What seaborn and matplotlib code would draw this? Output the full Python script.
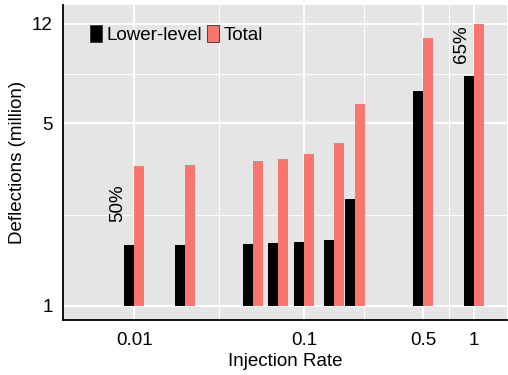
import numpy as np
import pandas as pd
import seaborn as sns
import matplotlib
matplotlib.use("Agg")
import matplotlib.pyplot as plt
from matplotlib.patches import Patch

# values (millions of deflections)
rates = [0.01, 0.02, 0.05, 0.07, 0.1, 0.15, 0.2, 0.5, 1]
lower_level = [1.71, 1.71, 1.73, 1.74, 1.76, 1.79, 2.57, 6.67, 7.59]
total = [3.43, 3.46, 3.59, 3.65, 3.82, 4.21, 5.93, 10.6, 12.0]
series = ["Lower-level", "Total"]
colors = ["#000000", "#F8766D"]
x_ticks = [0.01, 0.1, 0.5, 1]
x_labels = ["0.01", "0.1", "0.5", "1"]
y_ticks = [1, 5, 12]
notes = [(0.0080, 2.48, "50%"), (0.846, 10.0, "65%")]

df = pd.DataFrame({
    "rate": rates * 2,
    "series": [series[0]] * len(rates) + [series[1]] * len(rates),
    "value": lower_level + total,
})

sns.set_theme(style="darkgrid", rc={
    "axes.facecolor": "#E5E5E5",
    "grid.color": "white",
    "text.color": "black",
    "axes.labelcolor": "black",
})
plt.rcParams["font.family"] = ["Liberation Sans", "DejaVu Sans"]

fs = 13.5
fig = plt.figure(figsize=(5.08, 3.75), dpi=100)
ax = fig.add_axes([0.124, 0.147, 0.874, 0.840])
ax.set_xscale("log")
ax.set_yscale("log")

sns.barplot(data=df, x="rate", y="value", hue="series", hue_order=series,
            palette=dict(zip(series, colors)), native_scale=True,
            errorbar=None, width=0.94, saturation=1, legend=False,
            linewidth=0, ax=ax)

# bars start at 1 on the log axis
for p in ax.patches:
    h = p.get_height()
    p.set_y(1)
    p.set_height(h - 1)

ax.set_xlim(0.00381, 1.557)
ax.set_ylim(0.884, 14.19)

ax.set_xticks(x_ticks, labels=x_labels)
ax.set_xticks([np.sqrt(a * b) for a, b in zip(x_ticks[:-1], x_ticks[1:])], labels=[], minor=True)
ax.set_yticks(y_ticks, labels=[str(v) for v in y_ticks])
ax.set_yticks([np.sqrt(a * b) for a, b in zip(y_ticks[:-1], y_ticks[1:])], labels=[], minor=True)

ax.grid(which="major", color="white", lw=1.4)
ax.grid(which="minor", color="white", lw=0.7)
ax.set_axisbelow(True)

ax.tick_params(which="major", length=4.5, width=1.1, color="#7F7F7F",
               labelsize=fs, labelcolor="black", pad=3)
ax.tick_params(which="minor", length=0)
ax.tick_params(axis="x", pad=4)

for s in ["top", "right"]:
    ax.spines[s].set_visible(False)
for s in ["left", "bottom"]:
    ax.spines[s].set_visible(True)
    ax.spines[s].set_color("black")
    ax.spines[s].set_linewidth(1.3)

ax.set_xlabel("Injection Rate", fontsize=fs, labelpad=3)
ax.set_ylabel("Deflections (million)", fontsize=fs, labelpad=4)

for x, y, t in notes:
    ax.text(x, y, t, rotation=90, ha="center", va="center", fontsize=fs, color="black")

handles = [Patch(facecolor=c, edgecolor="#333333", linewidth=0.6) for c in colors]
ax.legend(handles, series, loc="upper left", bbox_to_anchor=(0.061, 0.935),
          ncol=2, frameon=False, handlelength=0.65, handleheight=0.95,
          handletextpad=0.2, columnspacing=0.3, borderaxespad=0, borderpad=0,
          fontsize=fs)

fig.savefig("out.png", dpi=100)
